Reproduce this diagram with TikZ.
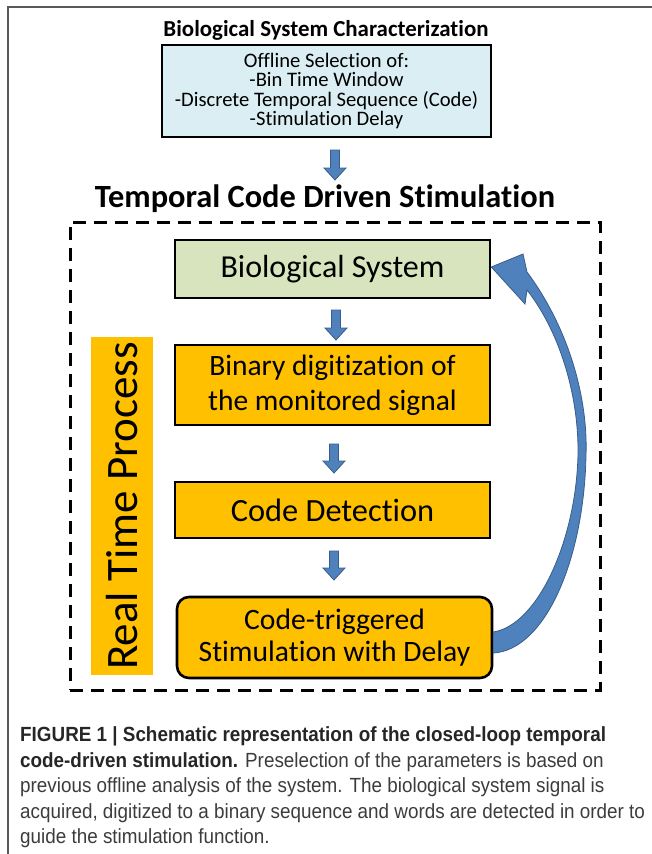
\documentclass[tikz,border=0pt]{standalone}
\usepackage{fontspec}
\setmainfont[Ligatures=NoCommon]{Carlito}
\newfontfamily\capfont[FakeStretch=0.92]{Liberation Sans}
\usetikzlibrary{positioning}
\definecolor{boxblue}{HTML}{DAEEF3}
\definecolor{boxgreen}{HTML}{D7E4BD}
\definecolor{boxorange}{HTML}{FFC000}
\definecolor{arrowfill}{HTML}{4F81BD}
\definecolor{arrowline}{HTML}{385D8A}
\definecolor{framegray}{HTML}{5A5A5A}
\definecolor{captext}{HTML}{3C3C3C}
\tikzset{
  procbox/.style={draw=black, line width=2.6pt, fill=boxorange, minimum width=315pt, align=center, inner sep=0pt},
  titletext/.style={font=\bfseries, inner sep=0pt}
}
\newcommand{\blockarrow}[3]{% x, ytop, ybottom
  \filldraw[fill=arrowfill, draw=arrowline, line width=0.8pt] (#1-4.5,#2) -- (#1+4.5,#2) -- (#1+4.5,#3-12) -- (#1+11,#3-12) -- (#1,#3) -- (#1-11,#3-12) -- (#1-4.5,#3-12) -- cycle;
}
\begin{document}
\begin{tikzpicture}[x=1pt,y=-1pt]
\useasboundingbox (0,0) rectangle (652,854);
% frame
\draw[framegray, line width=2pt] (7.5,854) -- (7.5,6.5) -- (652,6.5);
% top section
\node[titletext, font=\fontsize{22.9}{26}\selectfont\bfseries] (t1) at (326,30) {Biological System Characterization};
\node[draw=black, line width=2.8pt, fill=boxblue, minimum width=329pt, minimum height=92pt, align=center, inner sep=0pt,
  font=\fontsize{20.6}{19.5}\selectfont] (top) at (326.5,91)
  {\raisebox{-2pt}{Offline Selection of:}\\\raisebox{-2pt}{-Bin Time Window}\\\raisebox{-2pt}{-Discrete Temporal Sequence (Code)}\\\raisebox{-2pt}{-Stimulation Delay}};
\blockarrow{335}{150}{180}
\node[titletext, font=\fontsize{32.4}{36}\selectfont\bfseries] (t2) at (325,199) {Temporal Code Driven Stimulation};
% dashed frame
\node[draw=black, line width=3pt, dash pattern=on 13pt off 8pt, minimum width=530pt, minimum height=468pt, inner sep=0pt] (loop) at (335,456) {};
% real time band
\node[fill=boxorange, minimum width=62pt, minimum height=338pt, inner sep=0pt] (rtp) at (122,506) {};
\node[rotate=90, font=\fontsize{45}{50}\selectfont, inner sep=0pt] (rtpt) at (rtp.center) {Real Time Process};
% process boxes
\node[procbox, fill=boxgreen, minimum height=58pt, font=\fontsize{32}{36}\selectfont] (bio) at (332.5,269) {Biological System};
\blockarrow{336}{310}{340}
\node[procbox, minimum height=80pt, font=\fontsize{29.5}{35}\selectfont] (bin) at (332.5,385) {Binary digitization of\\the monitored signal};
\blockarrow{334}{444}{473}
\node[procbox, minimum height=56pt, font=\fontsize{32.4}{36}\selectfont] (det) at (332.5,510) {Code Detection};
\blockarrow{334}{551}{580}
\node[procbox, rounded corners=12pt, minimum height=81pt, font=\fontsize{29.6}{32}\selectfont] (stim) at (334.5,637.5) {Code-triggered\\Stimulation with Delay};
% curved feedback arrow
\filldraw[fill=arrowfill, draw=arrowline, line width=0.8pt]
  (bio.east |- 0,267) -- (523,254) -- (527,272)
  .. controls (570,330) and (588,400) .. (586,455)
  .. controls (584,560) and (545,650) .. (stim.east |- 0,653)
  -- (stim.east |- 0,632)
  .. controls (538,625) and (576,540) .. (578,455)
  .. controls (579,400) and (562,335) .. (527,290)
  -- (525,304) -- cycle;
% caption
\node[anchor=north west, align=left, inner sep=0pt, text=captext,
  font=\capfont\fontsize{20.5}{25.5}\selectfont] (cap) at (20,726.5)
  {{\color{black!85}\bfseries FIGURE 1 | Schematic representation of the closed-loop temporal}\\
   {\color{black!85}\bfseries code-driven stimulation.} Preselection of the parameters is based on\\
   previous offline analysis of the system. The biological system signal is\\
   acquired, digitized to a binary sequence and words are detected in order to\\
   guide the stimulation function.};
\end{tikzpicture}
\end{document}
